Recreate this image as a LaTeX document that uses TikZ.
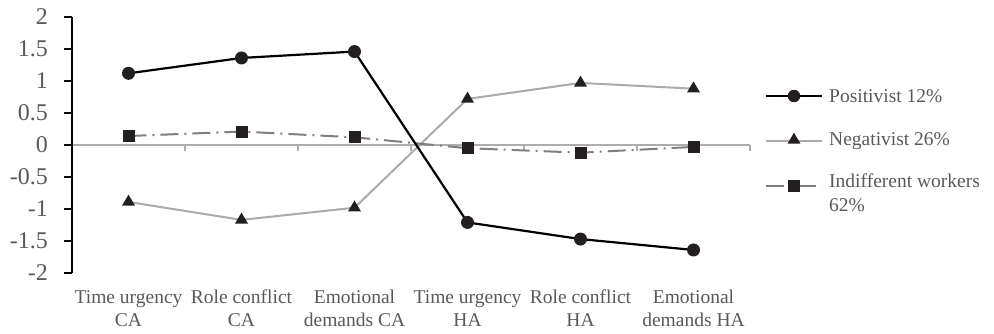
\documentclass[tikz,border=0pt]{standalone}
\usepackage{fontspec}
\setmainfont{Liberation Serif}
\usetikzlibrary{shapes.geometric}
\definecolor{txtgray}{HTML}{595959}
\definecolor{zerogray}{HTML}{ADADAD}
\definecolor{neggray}{HTML}{ABABAB}
\definecolor{indgray}{HTML}{7F7F7F}
\definecolor{mark}{HTML}{231F20}
\tikzset{
  ticklbl/.style={anchor=east, text=txtgray, inner sep=0pt, font=\fontsize{24}{26}\selectfont},
  catlbl/.style={align=center, text=txtgray, inner sep=0pt, font=\fontsize{19.5}{23}\selectfont},
  leglbl/.style={anchor=west, align=left, text=txtgray, inner sep=0pt, font=\fontsize{19.5}{24}\selectfont},
  posline/.style={line width=2.2pt, draw=black},
  negline/.style={line width=2pt, draw=neggray},
  indline/.style={line width=2pt, draw=indgray, dash pattern=on 18pt off 6pt on 2pt off 6pt},
  circmark/.style={circle, fill=mark, inner sep=0pt, minimum size=13pt},
  trimark/.style={isosceles triangle, isosceles triangle stretches, shape border rotate=90, fill=mark, inner sep=0pt, minimum height=11pt, minimum width=13pt},
  sqmark/.style={rectangle, fill=mark, inner sep=0pt, minimum size=12pt},
}
\begin{document}
\begin{tikzpicture}[x=1pt,y=1pt]
\useasboundingbox (0,0) rectangle (994,333);
% zero line with category ticks
\draw[zerogray, line width=1.5pt] (72,188) -- (750,188);
\foreach \k in {0,...,5} {
  \draw[zerogray, line width=1.3pt] ({185+113*\k},188) -- ({185+113*\k},182);
}
% y axis
\draw[black, line width=1.5pt] (72,316) -- (72,60);
\foreach \k/\lab in {0/-2,1/-1.5,2/-1,3/-0.5,4/0,5/0.5,6/1,7/1.5,8/2} {
  \draw[black, line width=1.3pt] (64,{60+32*\k}) -- (72,{60+32*\k});
  \node[ticklbl] (t\k) at (48,{60+32*\k}) {\lab};
}
% data coordinates
\foreach \i/\p/\n/\d in {1/1.12/-0.89/0.14, 2/1.36/-1.17/0.21, 3/1.46/-0.98/0.12, 4/-1.21/0.72/-0.05, 5/-1.47/0.97/-0.12, 6/-1.64/0.88/-0.03} {
  \coordinate (p\i) at ({128.5+113*(\i-1)},{188+64*\p});
  \coordinate (n\i) at ({128.5+113*(\i-1)},{188+64*\n});
  \coordinate (d\i) at ({128.5+113*(\i-1)},{188+64*\d});
}
\draw[negline] (n1) -- (n2) -- (n3) -- (n4) -- (n5) -- (n6);
\draw[indline] (d1) -- (d2) -- (d3) -- (d4) -- (d5) -- (d6);
\draw[posline] (p1) -- (p2) -- (p3) -- (p4) -- (p5) -- (p6);
\foreach \i in {1,...,6} {
  \node[trimark] (nm\i) at (n\i) {};
  \node[sqmark] (dm\i) at (d\i) {};
  \node[circmark] (pm\i) at (p\i) {};
}
% category labels
\node[catlbl] (c1) at (128.5,24.5) {Time urgency\\CA};
\node[catlbl] (c2) at (241.5,24.5) {Role conflict\\CA};
\node[catlbl] (c3) at (354.5,24.5) {Emotional\\demands CA};
\node[catlbl] (c4) at (467.5,24.5) {Time urgency\\HA};
\node[catlbl] (c5) at (580.5,24.5) {Role conflict\\HA};
\node[catlbl] (c6) at (693.5,24.5) {Emotional\\demands HA};
% legend
\coordinate (lp1) at (766,237); \coordinate (lp2) at (822,237);
\coordinate (ln1) at (766,192); \coordinate (ln2) at (822,192);
\coordinate (ld1) at (766,147); \coordinate (ld2) at (822,147);
\draw[posline] (lp1) -- (lp2);
\draw[negline] (ln1) -- (ln2);
\draw[indline] (ld1) -- (ld2);
\node[circmark, minimum size=12.5pt] (lpm) at (794,237) {};
\node[trimark] (lnm) at (794,193) {};
\node[sqmark, minimum size=11.5pt] (ldm) at (794,147) {};
\node[leglbl] (lt1) at (829,237) {Positivist 12\%};
\node[leglbl] (lt2) at (829,192) {Negativist 26\%};
\node[leglbl, anchor=north west] (lt3) at (829,159) {Indifferent workers\\62\%};
\end{tikzpicture}
\end{document}
